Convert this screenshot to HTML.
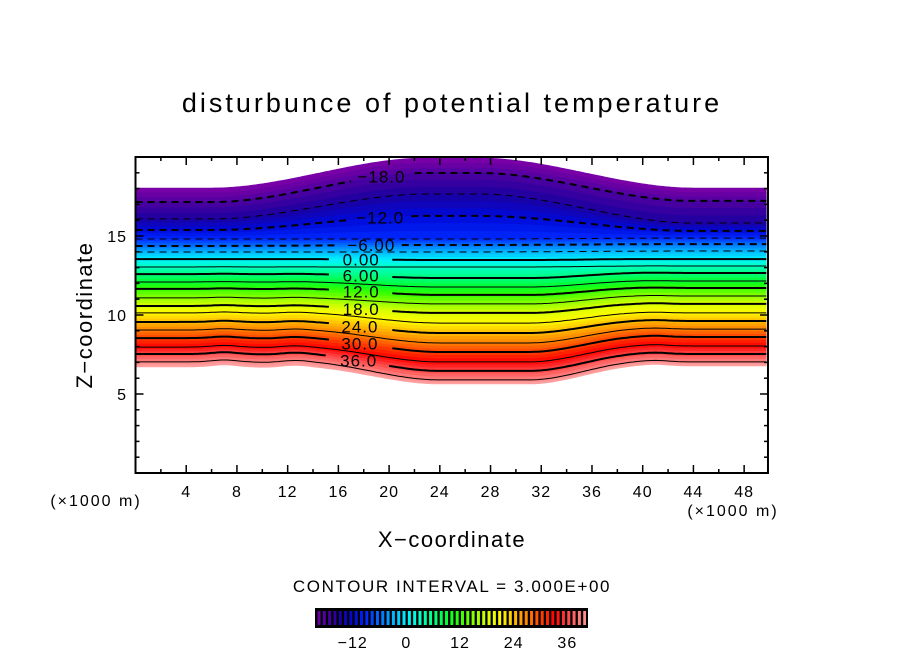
<!DOCTYPE html>
<html><head><meta charset="utf-8"><style>
html,body{margin:0;padding:0;background:#fff;}
svg{display:block;font-family:"Liberation Sans",sans-serif;}
</style></head><body>
<svg id="chart" width="904" height="654" viewBox="0 0 904 654">
<text x="452" y="112" text-anchor="middle" font-size="27" letter-spacing="3">disturbunce of potential temperature</text>
<text x="452" y="547" text-anchor="middle" font-size="22" letter-spacing="1.5">X−coordinate</text>
<text transform="translate(92,315) rotate(-90)" text-anchor="middle" font-size="22" letter-spacing="1.5">Z−coordinate</text>
<text x="96" y="506" text-anchor="middle" font-size="16" letter-spacing="2">(×1000 m)</text>
<text x="733" y="516" text-anchor="middle" font-size="16" letter-spacing="2">(×1000 m)</text>
<text x="452" y="592" text-anchor="middle" font-size="17" letter-spacing="1.6">CONTOUR INTERVAL = 3.000E+00</text>
<defs><clipPath id="pc"><rect x="135.5" y="157" width="632.5" height="316"/></clipPath></defs>
<g id="fills" clip-path="url(#pc)"></g>
<g id="lines" clip-path="url(#pc)"></g>
<g id="labels"></g>
<g id="axes"></g>
<g id="cbar"></g>
</svg>
<script>
// boundary values: top boundary, contours -18..39, bottom boundary
const levelValues = [-21,-18,-15,-12,-9,-6,-3,0,3,6,9,12,15,18,21,24,27,30,33,36,39,42];
const zLeft   = [18.04,17.15,16.08,15.38,14.81,14.37,13.99,13.54,13.04,12.59,12.09,11.65,11.08,10.57,10.13,9.56,9.05,8.54,7.97,7.53,7.03,6.71];
const zCenter = [19.94,18.99,17.66,16.27,14.81,14.43,13.99,13.48,13.04,12.34,11.77,11.27,10.70,10.13,9.49,8.86,8.23,7.66,7.03,6.46,5.89,5.63];
const zRight  = [18.04,17.22,15.82,15.32,14.87,14.49,14.05,13.54,13.10,12.66,12.15,11.71,11.20,10.70,10.13,9.62,9.11,8.61,8.04,7.53,7.03,6.77];
const bumpX   = [7, 10.5, 12.5, 41];
const bumpAmp = [0.13, -0.03, 0.1, 0.1];
const xTicks = [4,8,12,16,20,24,28,32,36,40,44,48];
const zTicks = [5,10,15];
const cbarTicks = [-12,0,12,24,36];
const labelLevels = [-18,-12,-6,0,6,12,18,24,30,36];
const labelText = ["−18.0","−12.0","−6.00","0.00","6.00","12.0","18.0","24.0","30.0","36.0"];
const labelX = [19.4,19.3,18.6,17.8,17.8,17.8,17.8,17.7,17.7,17.6];

const X0=135.5, PXU=12.68, Y0=473, PZU=15.8, XMAX=49.88;
const sx = x => X0 + x*PXU;
const sy = z => Y0 - z*PZU;
const NS="http://www.w3.org/2000/svg";
function mk(tag, attrs, parent){const e=document.createElementNS(NS,tag);for(const k in attrs)e.setAttribute(k,attrs[k]);parent.appendChild(e);return e;}
const ss=(a,b,x)=>{let t=Math.min(1,Math.max(0,(x-a)/(b-a)));return t*t*(3-2*t);};

function zAt(k,x){
  const upper = levelValues[k] < 0;
  let z;
  if (x <= 25) { const w = upper ? ss(6,23,x) : ss(13,24,x); z = zLeft[k] + (zCenter[k]-zLeft[k])*w; }
  else { const w = upper ? 1-ss(27,44,x) : 1-ss(31,40,x); z = zRight[k] + (zCenter[k]-zRight[k])*w; }
  if (!upper) {
    const f = Math.min(1, Math.max(0, (13.5 - zLeft[k]) / 6.8));
    for (let i=0;i<bumpX.length;i++) z += f*bumpAmp[i]*Math.exp(-Math.pow((x-bumpX[i])/1.4,2));
  }
  return z;
}
const stops=[[-21,[128,0,168]],[-18,[80,0,160]],[-15,[28,0,160]],[-12,[0,10,215]],[-9,[0,40,255]],[-6,[0,110,255]],[-3,[0,180,255]],[0,[0,240,255]],[3,[0,255,200]],[6,[0,255,130]],[9,[0,255,50]],[12,[50,255,0]],[15,[140,255,0]],[18,[215,255,0]],[21,[255,250,0]],[24,[255,190,0]],[27,[255,130,0]],[30,[255,65,0]],[33,[255,0,0]],[36,[255,70,70]],[39,[255,130,130]],[42,[255,165,165]]];
function col(v){
  if(v<=stops[0][0])return `rgb(${stops[0][1]})`;
  for(let i=1;i<stops.length;i++){if(v<=stops[i][0]){const a=stops[i-1],b=stops[i],t=(v-a[0])/(b[0]-a[0]);return `rgb(${a[1].map((c,j)=>Math.round(c+(b[1][j]-c)*t)).join(',')})`;}}
  return `rgb(${stops[stops.length-1][1]})`;
}
const xs=[];for(let x=0;x<=XMAX+0.01;x+=0.25)xs.push(x);
const fills=document.getElementById('fills');
for(let k=0;k<levelValues.length-1;k++){
  const sub=3;
  for(let s=0;s<sub;s++){
    const t0=s/sub,t1=(s+1)/sub;
    const top=xs.map(x=>{const a=zAt(k,x),b=zAt(k+1,x);return [sx(x),sy(a+(b-a)*t0)];});
    const bot=xs.map(x=>{const a=zAt(k,x),b=zAt(k+1,x);return [sx(x),sy(a+(b-a)*t1)];}).reverse();
    const v=levelValues[k]+(levelValues[k+1]-levelValues[k])*(s+0.5)/sub;
    const p=mk('polygon',{points:top.concat(bot).map(q=>q[0].toFixed(1)+','+q[1].toFixed(1)).join(' '),fill:col(v),stroke:col(v),'stroke-width':0.6},fills);
    
    
  }
}
const lines=document.getElementById('lines'), labels=document.getElementById('labels');
for(let k=1;k<levelValues.length-1;k++){
  const v=levelValues[k];
  const li=labelLevels.indexOf(v);
  let gapA=-1,gapB=-1;
  if(li>=0){gapA=labelX[li]-2.4;gapB=labelX[li]+2.4;}
  const segs=[[]];
  xs.forEach(x=>{ if(x>gapA&&x<gapB){ if(segs[segs.length-1].length)segs.push([]);} else segs[segs.length-1].push([sx(x),sy(zAt(k,x))]); });
  const thick = v%6===0;
  segs.forEach(sg=>{ if(sg.length<2)return;
    const pl=mk('polyline',{points:sg.map(q=>q[0].toFixed(1)+','+q[1].toFixed(1)).join(' '),fill:'none',stroke:'#000','stroke-width':thick?2:1,'stroke-dasharray':v<0?'7,5':'none'},lines);
    
    
  });
  if(li>=0){
    const t=mk('text',{x:sx(labelX[li]),y:sy(zAt(k,labelX[li]))+6,'text-anchor':'middle','font-size':17,'letter-spacing':1},labels);
    t.textContent=labelText[li];
    
    
  }
}
const ax=document.getElementById('axes');
const fr=mk('rect',{x:X0,y:157,width:sx(XMAX)-X0,height:316,fill:'none',stroke:'#000','stroke-width':2},ax);


for(let x=2;x<XMAX;x+=2){const maj=x%4===0,L=maj?8:4;
  mk('line',{x1:sx(x),x2:sx(x),y1:473,y2:473-L,stroke:'#000','stroke-width':1.5},ax);
  mk('line',{x1:sx(x),x2:sx(x),y1:157,y2:157+L,stroke:'#000','stroke-width':1.5},ax);}
for(let z=1;z<20;z++){const maj=z%5===0,L=maj?8:4;
  mk('line',{x1:X0,x2:X0+L,y1:sy(z),y2:sy(z),stroke:'#000','stroke-width':1.5},ax);
  mk('line',{x1:768,x2:768-L,y1:sy(z),y2:sy(z),stroke:'#000','stroke-width':1.5},ax);}
xTicks.forEach(x=>{const t=mk('text',{x:sx(x),y:497,'text-anchor':'middle','font-size':16,'letter-spacing':1},ax);t.textContent=x;
  
  });
zTicks.forEach(z=>{const t=mk('text',{x:127,y:sy(z)+6,'text-anchor':'end','font-size':16,'letter-spacing':1},ax);t.textContent=z;
  
  });
const cb=document.getElementById('cbar');
const CB0=316,CB1=587,VMIN=-20.2,VMAX=40.4;
const cx=v=>CB0+(v-VMIN)/(VMAX-VMIN)*(CB1-CB0);
mk('rect',{x:CB0,y:609,width:CB1-CB0,height:18,fill:'#000'},cb);
const nS=51,w=(CB1-CB0)/nS;
for(let i=0;i<nS;i++){const v=VMIN+(i+0.5)*(VMAX-VMIN)/nS;
  const r=mk('rect',{x:CB0+i*w+1.5,y:611,width:w-2.3,height:14,fill:col(v)},cb);
  
  }
mk('rect',{x:CB0,y:609,width:CB1-CB0,height:18,fill:'none',stroke:'#000','stroke-width':2},cb);
cbarTicks.forEach(v=>{const t=mk('text',{x:cx(v),y:648,'text-anchor':'middle','font-size':16,'letter-spacing':1},cb);t.textContent=v<0?'−'+(-v):v;
  
  });
</script>
</body></html>
